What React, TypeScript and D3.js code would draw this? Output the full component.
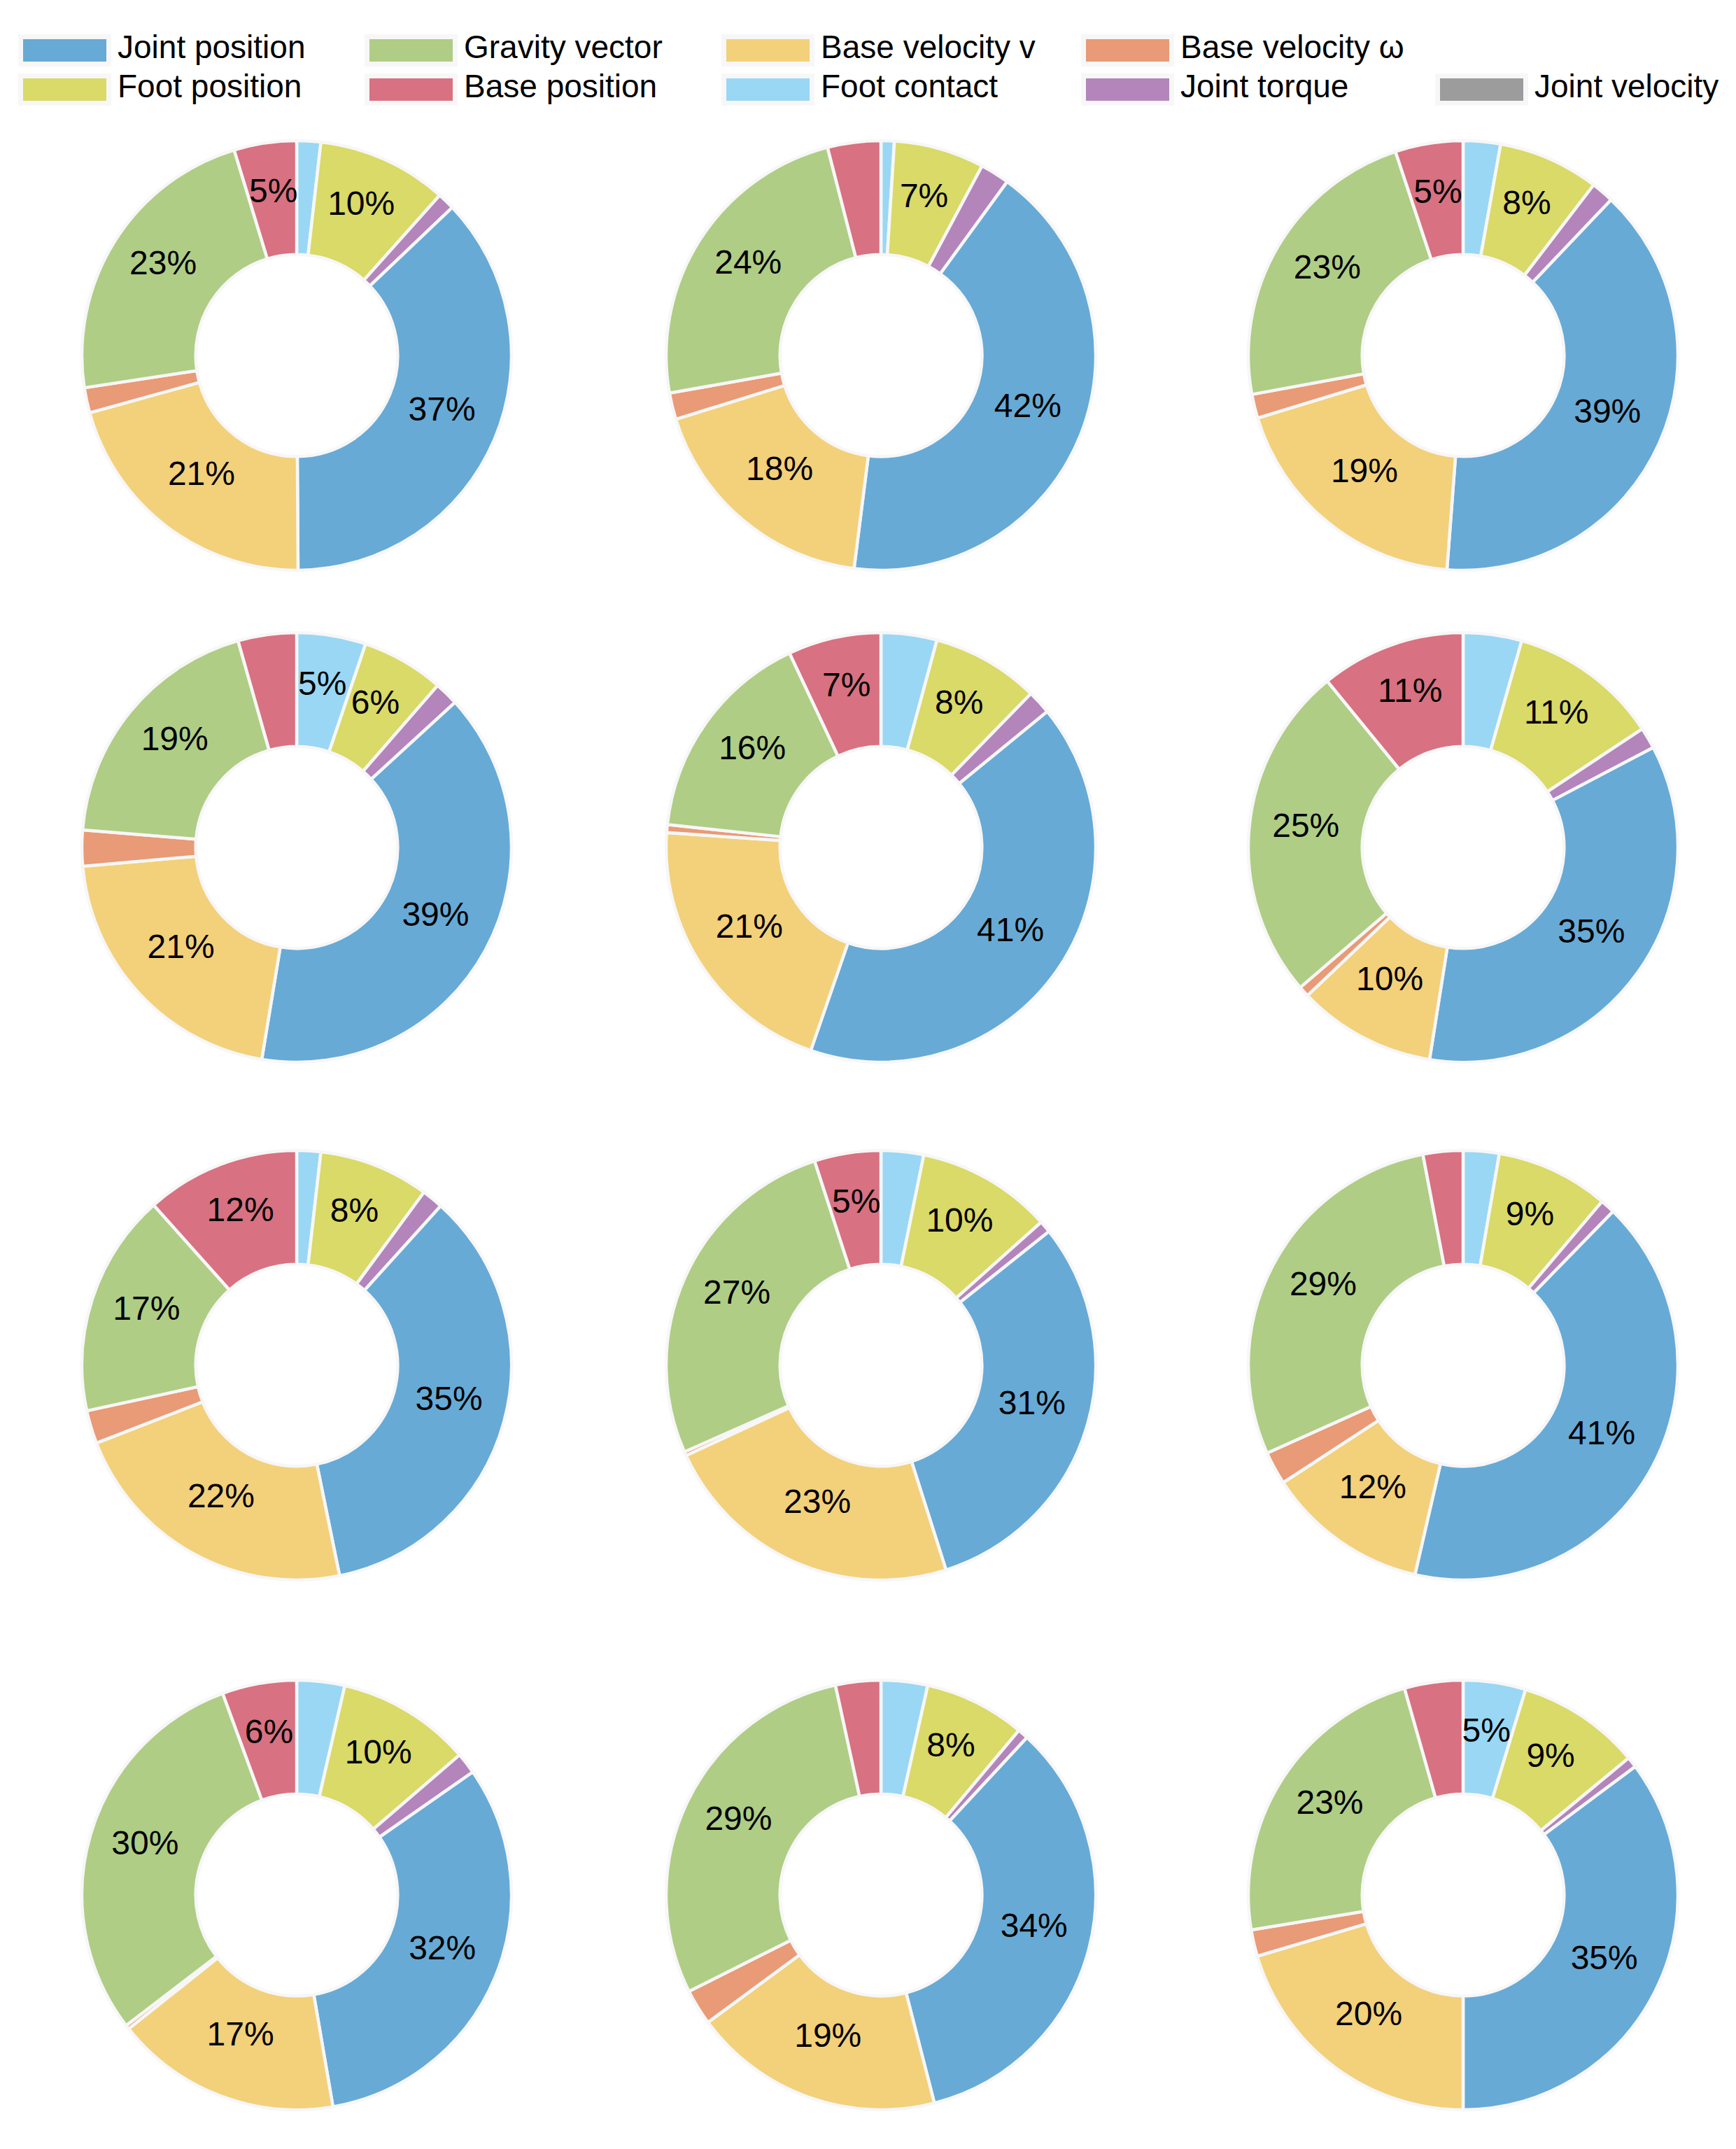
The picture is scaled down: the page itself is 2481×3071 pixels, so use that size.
import { useEffect, useRef } from 'react';
import * as d3 from 'd3';

// legend order
const categories = [
  'Joint position',
  'Gravity vector',
  'Base velocity v',
  'Base velocity ω',
  'Foot position',
  'Base position',
  'Foot contact',
  'Joint torque',
  'Joint velocity',
];
const colors = ['#67aad6', '#afcd85', '#f3d07a', '#e99a76', '#d9da67', '#d87181', '#99d7f4', '#b385bb', '#9c9c9c'];

// legend rows as laid out in the figure
const legendRows = [
  ['Joint position', 'Gravity vector', 'Base velocity v', 'Base velocity ω'],
  ['Foot position', 'Base position', 'Foot contact', 'Joint torque', 'Joint velocity'],
];

// wedges clockwise from 12 o'clock
const sliceOrder = [
  'Foot contact',
  'Foot position',
  'Joint torque',
  'Joint velocity',
  'Joint position',
  'Base velocity v',
  'Base velocity ω',
  'Gravity vector',
  'Base position',
];

// share (%) per panel, panels read row by row
const jointPosition = [37.0, 42.0, 39.1, 39.4, 41.2, 35.2, 35.1, 30.8, 41.3, 32.0, 34.1, 35.2];
const gravityVector = [22.7, 23.8, 22.8, 19.3, 16.3, 25.4, 16.8, 26.6, 28.7, 29.8, 29.0, 23.2];
const baseVelocityV = [20.8, 18.2, 19.1, 21.0, 20.8, 10.4, 22.3, 23.0, 12.2, 17.0, 18.9, 20.4];
const baseVelocityW = [1.9, 2.0, 1.8, 2.7, 0.6, 0.8, 2.5, 0.3, 2.5, 0.3, 2.7, 2.0];
const footPosition = [9.8, 6.8, 7.6, 6.2, 8.1, 11.3, 8.3, 10.2, 8.5, 10.1, 7.6, 9.3];
const basePosition = [4.7, 4.0, 5.1, 4.4, 7.0, 10.9, 11.6, 5.0, 3.0, 5.6, 3.4, 4.4];
const footContact = [1.8, 1.0, 2.8, 5.2, 4.2, 4.4, 1.8, 3.2, 2.7, 3.6, 3.5, 4.7];
const jointTorque = [1.3, 2.2, 1.7, 1.8, 1.8, 1.6, 1.6, 0.9, 1.1, 1.6, 0.8, 0.8];
const jointVelocity = [0, 0, 0, 0, 0, 0, 0, 0, 0, 0, 0, 0];

const series: Record<string, number[]> = {
  'Joint position': jointPosition,
  'Gravity vector': gravityVector,
  'Base velocity v': baseVelocityV,
  'Base velocity ω': baseVelocityW,
  'Foot position': footPosition,
  'Base position': basePosition,
  'Foot contact': footContact,
  'Joint torque': jointTorque,
  'Joint velocity': jointVelocity,
};

const WIDTH = 2481;
const HEIGHT = 3071;
const FONT = "'Liberation Sans', Arial, Helvetica, sans-serif";

export default function App() {
  const ref = useRef<SVGSVGElement>(null);

  useEffect(() => {
    if (!ref.current) return;
    const svg = d3.select(ref.current);
    svg.selectAll('*').remove();

    svg.append('rect').attr('width', WIDTH).attr('height', HEIGHT).attr('fill', '#fff');

    const color = d3.scaleOrdinal<string, string>().domain(categories).range(colors);

    // legend
    const colX = [33, 528, 1038, 1552, 2058];
    const rowY = [56, 112];
    const legend = svg.append('g');
    legendRows.forEach((row, r) => {
      row.forEach((name, c) => {
        const col = name === 'Joint velocity' ? 4 : c;
        const g = legend.append('g').attr('transform', `translate(${colX[col]},${rowY[r]})`);
        g.append('rect')
          .attr('x', -3.5)
          .attr('y', -3.5)
          .attr('width', 126)
          .attr('height', 39)
          .attr('fill', color(name))
          .attr('stroke', '#f7f7f7')
          .attr('stroke-width', 7);
        g.append('text')
          .attr('x', 135)
          .attr('y', 27)
          .attr('font-family', FONT)
          .attr('font-size', 46)
          .attr('fill', '#000')
          .text(name);
      });
    });

    // panels
    const colCenters = [424, 1259, 2091];
    const rowCenters = [508, 1211, 1951, 2708];
    const outer = 307;
    const inner = outer * 0.47;
    const labelR = outer * 0.735;

    const arc = d3.arc<d3.PieArcDatum<string>>().innerRadius(inner).outerRadius(outer);
    const labelArc = d3.arc<d3.PieArcDatum<string>>().innerRadius(labelR).outerRadius(labelR);

    const panels = d3.range(jointPosition.length);
    panels.forEach((i) => {
      const cx = colCenters[i % 3];
      const cy = rowCenters[Math.floor(i / 3)];
      const total = d3.sum(sliceOrder, (n) => series[n][i]);
      const pie = d3
        .pie<string>()
        .sort(null)
        .value((n) => series[n][i]);
      const arcs = pie(sliceOrder).filter((d) => d.value > 0);

      const g = svg.append('g').attr('transform', `translate(${cx},${cy})`);
      g.selectAll('path')
        .data(arcs)
        .enter()
        .append('path')
        .attr('d', arc)
        .attr('fill', (d) => color(d.data))
        .attr('stroke', '#f7f7f7')
        .attr('stroke-width', 4.5)
        .attr('stroke-linejoin', 'miter');

      g.selectAll('text')
        .data(arcs.filter((d) => (d.value / total) * 100 >= 4.5))
        .enter()
        .append('text')
        .attr('transform', (d) => {
          const [x, y] = labelArc.centroid(d);
          return `translate(${x},${y - 8})`;
        })
        .attr('text-anchor', 'middle')
        .attr('dominant-baseline', 'central')
        .attr('dy', '-0.08em')
        .attr('font-family', FONT)
        .attr('font-size', 48)
        .attr('fill', '#000')
        .text((d) => `${Math.round((d.value / total) * 100)}%`);
    });
  }, []);

  return (
    <svg
      ref={ref}
      width={WIDTH}
      height={HEIGHT}
      style={{ position: 'absolute', left: 0, top: 0, display: 'block' }}
    />
  );
}
